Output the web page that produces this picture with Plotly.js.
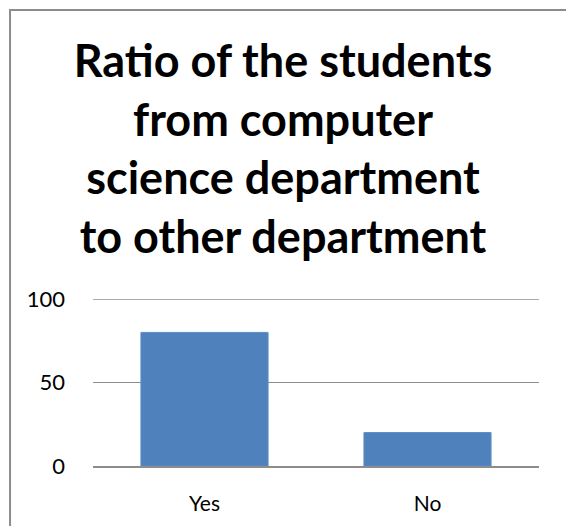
<!DOCTYPE html>
<html>
<head>
<meta charset="utf-8">
<script src="https://cdn.plot.ly/plotly-3.0.1.min.js"></script>
<style>
  html, body { margin: 0; padding: 0; background: #fff; }
  #chart { width: 566px; height: 526px; }
</style>
</head>
<body>
<div id="chart"></div>
<script>
const categories = ["Yes", "No"];
const values = [80, 20];
const yTickValues = [0, 50, 100];
const yTickLabels = ["0", "50", "100"];
const titleText = "Ratio of the students<br>from computer<br>science department<br>to other department";

const trace = {
  type: "bar",
  x: categories,
  y: values,
  marker: { color: "#4F81BD", line: { color: "#5b8cc6", width: 1 } },
  hoverinfo: "x+y"
};

const layout = {
  width: 566,
  height: 526,
  margin: { l: 93, r: 27, t: 299, b: 60 },
  paper_bgcolor: "#ffffff",
  plot_bgcolor: "#ffffff",
  showlegend: false,
  bargap: 0.43,
  title: {
    text: titleText,
    font: { family: "Lato, 'Open Sans', sans-serif", size: 45, color: "#000000", weight: 700 },
    x: 0.5,
    xref: "container",
    xanchor: "center",
    y: 1 - 77 / 526,
    yref: "container",
    yanchor: "top"
  },
  xaxis: {
    type: "category",
    showgrid: false,
    showline: true,
    linecolor: "#8c8c8c",
    linewidth: 2,
    ticks: "",
    ticklabelstandoff: 18,
    tickfont: { family: "Lato, 'Open Sans', sans-serif", size: 21, color: "#000000" },
    fixedrange: true
  },
  yaxis: {
    range: [0, 100],
    tickvals: yTickValues,
    ticktext: yTickLabels,
    showgrid: true,
    gridcolor: "#8c8c8c",
    gridwidth: 1.5,
    zeroline: false,
    showline: false,
    ticks: "",
    ticklabelstandoff: 27,
    tickfont: { family: "Lato, 'Open Sans', sans-serif", size: 22, color: "#000000" },
    fixedrange: true
  },
  shapes: [
    {
      type: "line",
      xref: "paper",
      yref: "y",
      x0: 0, x1: 1, y0: 100, y1: 100,
      line: { color: "#8c8c8c", width: 1.5 }
    },
    {
      type: "path",
      xref: "paper",
      yref: "paper",
      path: "M -0.186 -0.5 L -0.186 2.73 L 1.2 2.73",
      line: { color: "#8c8c8c", width: 2 }
    }
  ]
};

Plotly.newPlot("chart", [trace], layout, { displayModeBar: false, staticPlot: true });
</script>
</body>
</html>
